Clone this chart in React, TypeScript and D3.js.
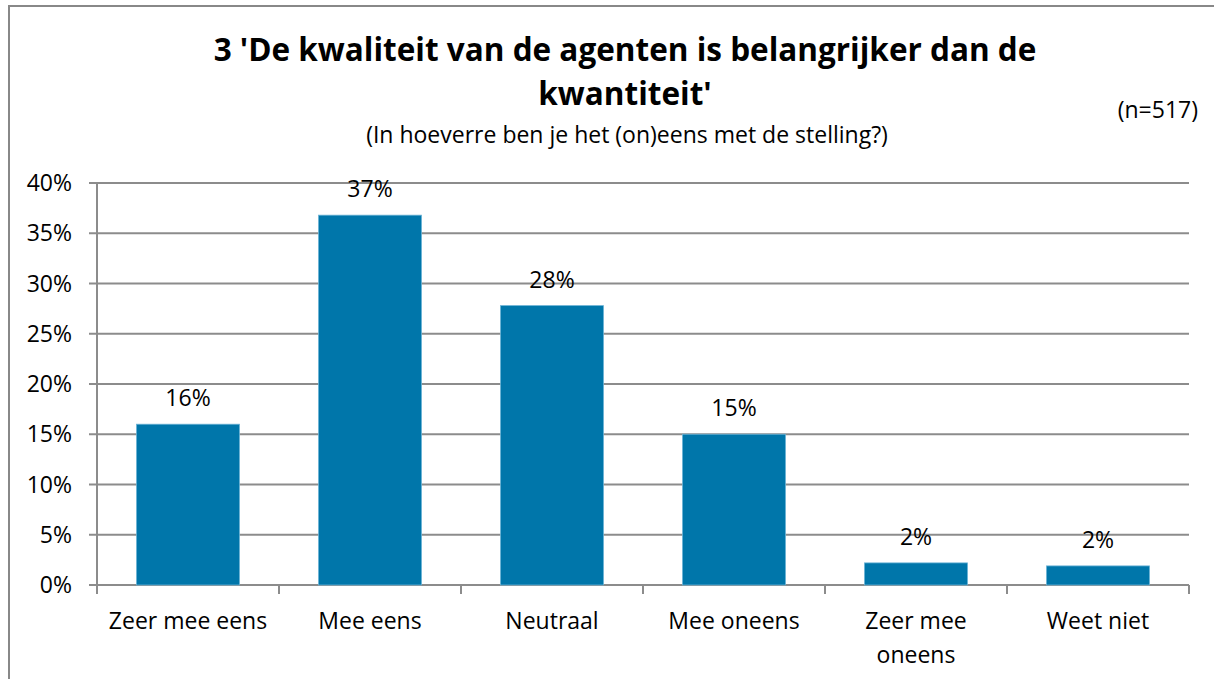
import React from "react";
import * as d3 from "d3";

const categories = [["Zeer mee eens"], ["Mee eens"], ["Neutraal"], ["Mee oneens"], ["Zeer mee", "oneens"], ["Weet niet"]];
const values = [16.0, 36.8, 27.8, 15.0, 2.2, 1.9];
const valueLabels = ["16%", "37%", "28%", "15%", "2%", "2%"];
const yTicks = [0, 5, 10, 15, 20, 25, 30, 35, 40];
const titleLines = ["3 'De kwaliteit van de agenten is belangrijker dan de", "kwantiteit'"];
const subtitle = "(In hoeverre ben je het (on)eens met de stelling?)";
const nLabel = "(n=517)";

const W = 1214, H = 679;
const FONT = "'Open Sans', sans-serif";

export default function App() {
  const left = 97, right = 1189, top = 183, bottom = 585;
  const x = d3.scaleBand<number>().domain(d3.range(categories.length)).range([left, right]).paddingInner(0.434).paddingOuter(0.217);
  const xb = d3.scaleBand<number>().domain(d3.range(categories.length)).range([left, right]);
  const y = d3.scaleLinear().domain([0, 40]).range([bottom, top]);
  const grid = "#8c8c8c";
  const fs = 23;
  return (
    <svg width={W} height={H} style={{ position: "absolute", left: 0, top: 0, background: "#fff" }} fontFamily={FONT}>
      <rect x={0} y={0} width={W} height={H} fill="#fff" />
      <path d={`M9,${H} V6 H${W}`} fill="none" stroke="#888" strokeWidth={2} />
      {titleLines.map((t, i) => (
        <text key={i} x={625} y={61 + i * 44} textAnchor="middle" fontSize={31.5} fontWeight="bold" fill="#000">{t}</text>
      ))}
      <text x={627} y={143} textAnchor="middle" fontSize={fs} fill="#000">{subtitle}</text>
      <text x={1198} y={118} textAnchor="end" fontSize={fs} fill="#000">{nLabel}</text>
      {yTicks.map((t) => (
        <g key={t}>
          <line x1={89} x2={right} y1={y(t)} y2={y(t)} stroke={grid} strokeWidth={2} />
          <text x={72} y={y(t) + 8} textAnchor="end" fontSize={fs} fill="#000">{t}%</text>
        </g>
      ))}
      <line x1={left} x2={left} y1={top} y2={bottom + 9} stroke={grid} strokeWidth={2} />
      {d3.range(categories.length + 1).map((i) => {
        const xx = left + i * xb.bandwidth();
        return <line key={i} x1={xx} x2={xx} y1={bottom} y2={bottom + 9} stroke={grid} strokeWidth={2} />;
      })}
      {values.map((v, i) => (
        <g key={i}>
          <rect x={x(i)} y={y(v)} width={x.bandwidth()} height={bottom - y(v)} fill="#0076AA" stroke="#6bb3d6" strokeWidth={0.8} />
          <text x={(x(i) as number) + x.bandwidth() / 2} y={y(v) - 18} textAnchor="middle" fontSize={fs} fill="#000">{valueLabels[i]}</text>
        </g>
      ))}
      {categories.map((lines, i) => (
        <text key={i} x={(xb(i) as number) + xb.bandwidth() / 2} y={629} textAnchor="middle" fontSize={fs} fill="#000">
          {lines.map((l, j) => (
            <tspan key={j} x={(xb(i) as number) + xb.bandwidth() / 2} dy={j === 0 ? 0 : 34}>{l}</tspan>
          ))}
        </text>
      ))}
    </svg>
  );
}
